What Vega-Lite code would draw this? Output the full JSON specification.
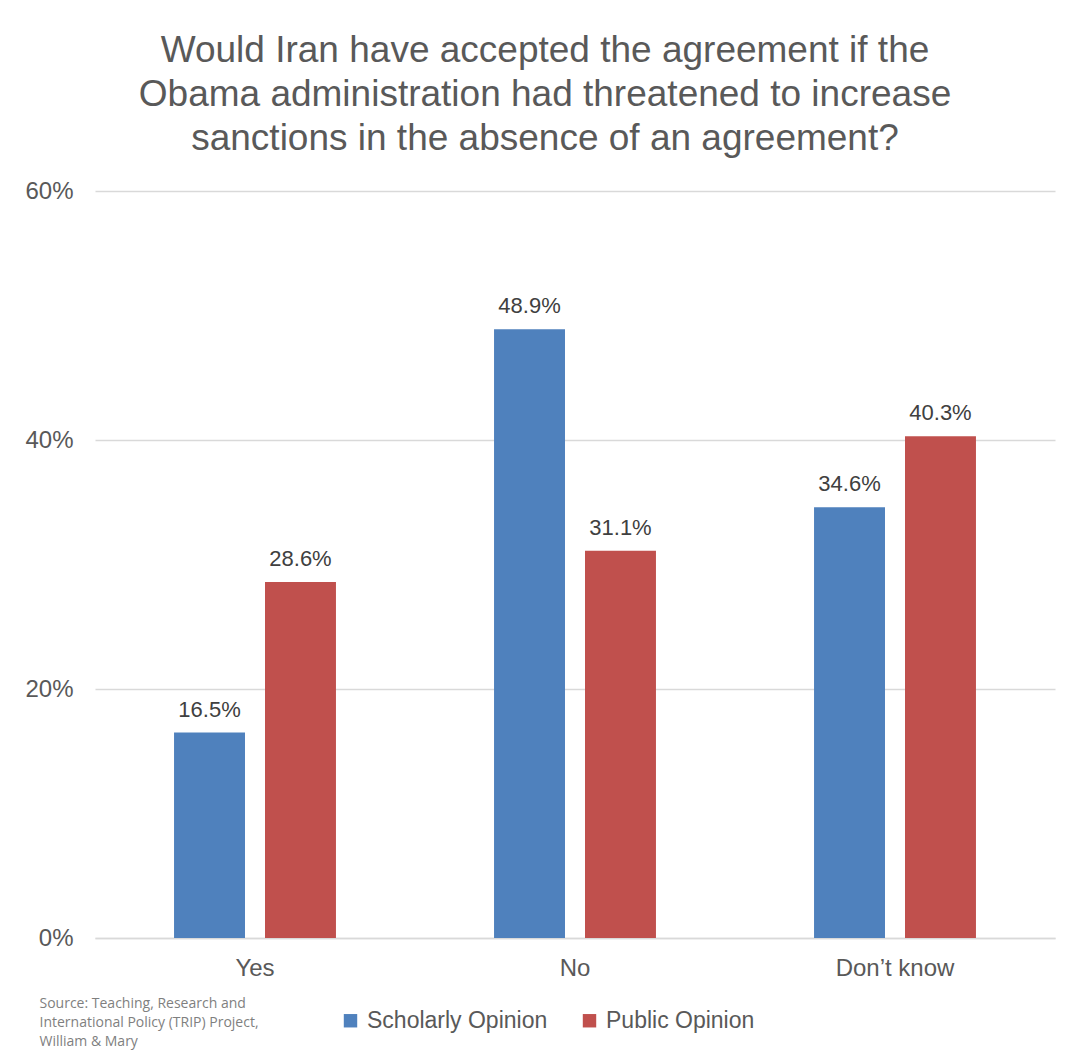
{
  "$schema": "https://vega.github.io/schema/vega-lite/v6.json",
  "autosize": {"type": "none"},
  "width": 960,
  "height": 747,
  "padding": {"left": 95, "top": 191, "right": 18, "bottom": 112},
  "background": "white",
  "title": {
    "text": ["Would Iran have accepted the agreement if the", "Obama administration had threatened to increase", "sanctions in the absence of an agreement?"],
    "font": "Liberation Sans",
    "fontSize": 37,
    "fontWeight": "normal",
    "color": "#595959",
    "lineHeight": 44,
    "anchor": "middle",
    "dx": -30,
    "offset": 21
  },
  "data": {
    "values": [
      {"answer": "Yes", "group": "Scholarly Opinion", "value": 0.165},
      {"answer": "Yes", "group": "Public Opinion", "value": 0.286},
      {"answer": "No", "group": "Scholarly Opinion", "value": 0.489},
      {"answer": "No", "group": "Public Opinion", "value": 0.311},
      {"answer": "Don’t know", "group": "Scholarly Opinion", "value": 0.346},
      {"answer": "Don’t know", "group": "Public Opinion", "value": 0.403}
    ]
  },
  "encoding": {
    "x": {
      "field": "answer",
      "type": "nominal",
      "sort": ["Yes", "No", "Don’t know"],
      "scale": {"paddingInner": 0.494, "paddingOuter": 0.247},
      "axis": {
        "title": ["Source: Teaching, Research and", "International Policy (TRIP) Project,", "William & Mary"],
        "titleFont": "Open Sans",
        "titleFontSize": 14,
        "titleFontWeight": "normal",
        "titleColor": "#7F7F7F",
        "titleLineHeight": 19,
        "titleAlign": "left",
        "titleAnchor": "start",
        "titleBaseline": "top",
        "titleX": -56,
        "titleY": 58,
        "labelAngle": 0,
        "labelFont": "Liberation Sans",
        "labelFontSize": 24,
        "labelColor": "#595959",
        "labelPadding": 18,
        "ticks": false,
        "domain": true,
        "domainColor": "#D9D9D9",
        "domainWidth": 1.5
      }
    },
    "xOffset": {
      "field": "group",
      "type": "nominal",
      "sort": ["Scholarly Opinion", "Public Opinion"],
      "scale": {"paddingInner": 0.22, "paddingOuter": 0}
    },
    "y": {
      "field": "value",
      "type": "quantitative",
      "scale": {"domain": [0, 0.6]},
      "axis": {
        "title": null,
        "values": [0, 0.2, 0.4, 0.6],
        "format": ".0%",
        "labelFont": "Liberation Sans",
        "labelFontSize": 24,
        "labelColor": "#595959",
        "labelPadding": 22,
        "ticks": false,
        "domain": false,
        "grid": true,
        "gridColor": "#D9D9D9",
        "gridWidth": 1.5
      }
    }
  },
  "layer": [
    {
      "mark": {"type": "bar"},
      "encoding": {
        "color": {
          "field": "group",
          "type": "nominal",
          "sort": ["Scholarly Opinion", "Public Opinion"],
          "scale": {"domain": ["Scholarly Opinion", "Public Opinion"], "range": ["#4F81BD", "#C0504D"]},
          "legend": {
            "title": null,
            "orient": "none",
            "direction": "horizontal",
            "legendX": 244,
            "legendY": 818,
            "symbolType": "square",
            "symbolSize": 180,
            "symbolStrokeWidth": 0,
            "symbolOpacity": 1,
            "labelFont": "Liberation Sans",
            "labelFontSize": 23,
            "labelLimit": 0,
            "labelColor": "#595959",
            "labelOffset": 5,
            "columnPadding": 30
          }
        }
      }
    },
    {
      "mark": {"type": "text", "baseline": "bottom", "dy": -11, "font": "Liberation Sans", "fontSize": 22, "color": "#404040"},
      "encoding": {
        "text": {"field": "value", "type": "quantitative", "format": ".1%"},
        "detail": {"field": "group"}
      }
    }
  ],
  "config": {
    "view": {"stroke": null}
  }
}
